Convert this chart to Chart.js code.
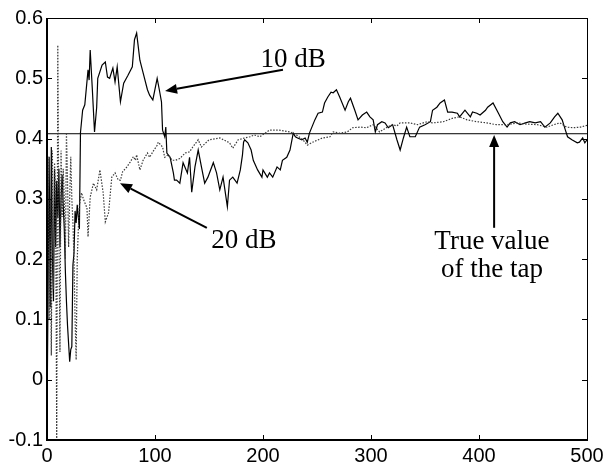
<!DOCTYPE html>
<html>
<head>
<meta charset="utf-8">
<script src="https://cdn.jsdelivr.net/npm/chart.js@4/dist/chart.umd.min.js"></script>
<style>
  body { margin: 0; background: #fff; }
  canvas { display: block; }
</style>
</head>
<body>
<canvas id="tapChart" width="609" height="472"></canvas>
<script>
// 10 dB run (solid line)
const snr10X = [0,1,2,3,4,5,6,7,8,9,10,11,12,13,14,15,16,17,18,19,20,21,22,23,24,25,26,27,28,29,30,31,
  33,35,38,39,40,42,44,46,47,51,54,56,58,61,63,65,68,71,75,79,81,83,86,89,93,95,98,102,104,106,107,109,110,111,
  114,117,118,120,123,126,130,132,134,137,140,143,146,149,154,157,160,163,167,169,172,176,179,181,182,183,186,189,
  191,195,199,200,204,206,209,213,216,218,222,225,228,230,232,236,239,241,243,248,251,255,257,260,263,265,268,271,
  276,279,281,285,288,292,296,299,302,304,306,310,313,316,320,324,327,330,333,336,341,345,350,355,357,361,364,368,
  371,375,380,382,387,392,394,398,401,406,408,413,418,422,426,429,433,438,443,447,452,457,461,466,470,473,477,480,
  482,486,491,493,496,498,500];
const snr10Y = [-0.07,0.15,0.37,0.12,0.386,0.2,0.13,0.35,0.22,0.33,0.27,0.35,0.22,0.3,0.34,0.29,0.25,0.18,0.13,0.09,0.06,0.03,0.05,0.055,0.19,0.21,0.28,0.26,0.29,0.27,0.25,0.41,
  0.447,0.456,0.514,0.497,0.547,0.481,0.411,0.452,0.5,0.522,0.527,0.502,0.5,0.517,0.494,0.519,0.461,0.492,0.505,0.519,0.564,0.575,0.53,0.509,0.481,0.472,0.464,0.5,0.481,0.461,0.414,0.403,0.419,0.376,
  0.369,0.343,0.331,0.331,0.326,0.36,0.343,0.369,0.311,0.353,0.381,0.353,0.326,0.336,0.36,0.343,0.315,0.336,0.287,0.331,0.336,0.326,0.348,0.373,0.394,0.398,0.393,0.381,
  0.364,0.348,0.336,0.348,0.336,0.343,0.336,0.353,0.348,0.364,0.369,0.381,0.409,0.403,0.401,0.398,0.401,0.394,0.409,0.431,0.442,0.444,0.459,0.469,0.477,0.476,0.481,0.469,
  0.447,0.461,0.467,0.447,0.431,0.439,0.444,0.436,0.431,0.411,0.423,0.428,0.426,0.418,0.423,0.398,0.381,0.401,0.419,0.403,0.403,0.419,0.423,0.428,0.447,0.452,0.459,0.464,
  0.444,0.444,0.442,0.436,0.447,0.436,0.444,0.442,0.439,0.447,0.452,0.459,0.442,0.428,0.419,0.426,0.428,0.423,0.426,0.428,0.426,0.428,0.419,0.426,0.436,0.442,0.431,0.414,
  0.403,0.398,0.393,0.394,0.401,0.393,0.398];

// 20 dB run (dotted line)
const snr20X = [0,1,2,3,4,5,6,7,8,9,10,11,12,13,14,15,16,17,18,19,20,21,22,23,24,25,26,27,28,29,30,32,34,37,38,40,43,46,49,52,54,57,
  60,63,66,68,70,74,77,80,82,83,86,89,93,95,98,102,103,107,109,112,116,119,123,128,132,135,140,143,150,160,169,172,177,183,188,192,197,
  206,215,225,231,237,241,246,255,262,265,271,278,283,290,296,302,308,315,320,324,327,336,343,352,357,367,376,382,389,398,407,416,426,
  435,444,454,463,469,475,481,487,494,500];
const snr20Y = [0.05,0.37,0.1,0.3,0.04,0.38,0.15,0.36,0.3,-0.1,0.555,0.25,0.046,0.38,0.27,0.35,0.3,0.2,0.41,0.33,0.22,0.3,0.37,0.3,0.26,0.2,0.1,0.033,0.2,0.25,0.29,0.31,0.298,0.285,0.237,0.303,0.326,0.315,0.348,0.31,0.262,0.277,
  0.336,0.343,0.331,0.331,0.345,0.353,0.361,0.37,0.364,0.373,0.348,0.364,0.376,0.369,0.378,0.389,0.394,0.386,0.369,0.373,0.364,0.364,0.367,0.376,0.378,0.386,0.398,0.386,0.398,0.401,0.393,0.384,0.398,0.401,0.403,0.406,0.403,
  0.414,0.414,0.411,0.406,0.398,0.389,0.394,0.401,0.403,0.411,0.409,0.411,0.418,0.419,0.418,0.423,0.411,0.419,0.423,0.421,0.426,0.426,0.423,0.428,0.426,0.428,0.434,0.436,0.431,0.428,0.426,0.423,0.423,
  0.426,0.424,0.423,0.419,0.423,0.426,0.419,0.418,0.419,0.422];

const trueTap = 0.408;
const xTicks = [0, 100, 200, 300, 400, 500];
const yTicks = [-0.1, 0, 0.1, 0.2, 0.3, 0.4, 0.5, 0.6];

// annotation arrows, in data units
const notes = [
  { lines: ['10 dB'], at: [228, 0.530], from: [218.5, 0.514], to: [109.3, 0.479] },
  { lines: ['20 dB'], at: [182.4, 0.230], from: [148, 0.252], to: [67.6, 0.326] },
  { lines: ['True value', 'of the tap'], at: [412, 0.229], from: [414, 0.252], to: [414, 0.406] }
];

const toPoints = (xs, ys) => xs.map((x, i) => ({ x: x, y: ys[i] }));

const boxPlugin = {
  id: 'box',
  afterDraw(chart) {
    const ctx = chart.ctx;
    const a = chart.chartArea;
    const xs = chart.scales.x, ys = chart.scales.y;
    ctx.save();
    ctx.strokeStyle = '#000';
    ctx.lineWidth = 1;
    ctx.strokeRect(a.left + 0.5, a.top + 0.5, a.right - a.left, a.bottom - a.top);
    // heavier left and bottom axes
    ctx.lineWidth = 2;
    ctx.beginPath();
    ctx.moveTo(a.left, a.top);
    ctx.lineTo(a.left, a.bottom);
    ctx.lineTo(a.right + 1, a.bottom);
    ctx.stroke();
    // inward ticks on all four sides
    ctx.lineWidth = 1;
    ctx.beginPath();
    xTicks.forEach(v => {
      const px = Math.round(xs.getPixelForValue(v)) + 0.5;
      ctx.moveTo(px, a.bottom); ctx.lineTo(px, a.bottom - 5);
      ctx.moveTo(px, a.top); ctx.lineTo(px, a.top + 5);
    });
    yTicks.forEach(v => {
      const py = Math.round(ys.getPixelForValue(v)) + 0.5;
      ctx.moveTo(a.left, py); ctx.lineTo(a.left + 5, py);
      ctx.moveTo(a.right, py); ctx.lineTo(a.right - 5, py);
    });
    ctx.stroke();

    // labels and arrows
    ctx.fillStyle = '#000';
    ctx.font = '27px "Liberation Serif"';
    ctx.textAlign = 'center';
    ctx.textBaseline = 'middle';
    notes.forEach(n => {
      const tx = xs.getPixelForValue(n.at[0]);
      const ty = ys.getPixelForValue(n.at[1]);
      n.lines.forEach((t, i) => ctx.fillText(t, tx, ty + i * 28));
      const x0 = xs.getPixelForValue(n.from[0]), y0 = ys.getPixelForValue(n.from[1]);
      const x1 = xs.getPixelForValue(n.to[0]), y1 = ys.getPixelForValue(n.to[1]);
      const ang = Math.atan2(y1 - y0, x1 - x0);
      const hl = 12, hw = 5;
      const bx = x1 - hl * Math.cos(ang), by = y1 - hl * Math.sin(ang);
      ctx.lineWidth = 2;
      ctx.beginPath();
      ctx.moveTo(x0, y0);
      ctx.lineTo(bx, by);
      ctx.stroke();
      ctx.beginPath();
      ctx.moveTo(x1, y1);
      ctx.lineTo(bx + hw * Math.sin(ang), by - hw * Math.cos(ang));
      ctx.lineTo(bx - hw * Math.sin(ang), by + hw * Math.cos(ang));
      ctx.closePath();
      ctx.fill();
    });
    ctx.restore();
  }
};

new Chart(document.getElementById('tapChart'), {
  type: 'line',
  data: {
    datasets: [
      {
        label: '20 dB',
        data: toPoints(snr20X, snr20Y),
        borderColor: '#3a3a3a',
        borderWidth: 1.2,
        borderDash: [1.5, 1.5],
        pointRadius: 0,
        tension: 0
      },
      {
        label: '10 dB',
        data: toPoints(snr10X, snr10Y),
        borderColor: '#000',
        borderWidth: 1.2,
        pointRadius: 0,
        tension: 0
      },
      {
        label: 'True value',
        data: [{ x: 0, y: trueTap }, { x: 500, y: trueTap }],
        borderColor: '#000',
        borderWidth: 1,
        pointRadius: 0
      }
    ]
  },
  options: {
    responsive: false,
    animation: false,
    layout: { padding: { top: 18, right: 22, left: 0, bottom: 0 } },
    plugins: { legend: { display: false }, tooltip: { enabled: false } },
    scales: {
      x: {
        type: 'linear',
        min: 0,
        max: 500,
        afterFit: s => { s.height = 32; },
        afterBuildTicks: s => { s.ticks = xTicks.map(v => ({ value: v })); },
        grid: { display: false, drawTicks: false },
        border: { display: false },
        ticks: { color: '#000', padding: 4, maxRotation: 0, font: { family: 'Liberation Sans', size: 20 } }
      },
      y: {
        min: -0.1,
        max: 0.6,
        afterFit: s => { s.width = 47; },
        afterBuildTicks: s => { s.ticks = yTicks.map(v => ({ value: v })); },
        grid: { display: false, drawTicks: false },
        border: { display: false },
        ticks: {
          color: '#000',
          padding: 4,
          font: { family: 'Liberation Sans', size: 20 },
          callback: v => String(Number(v.toFixed(1)))
        }
      }
    }
  },
  plugins: [boxPlugin]
});
</script>
</body>
</html>
